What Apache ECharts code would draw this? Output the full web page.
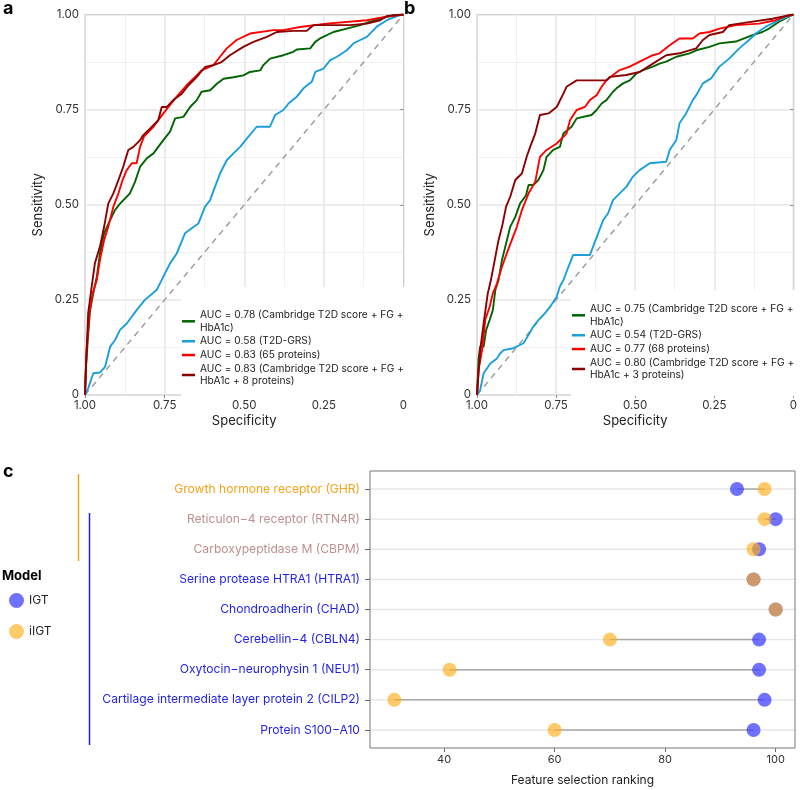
<!DOCTYPE html>
<html>
<head>
<meta charset="utf-8">
<script src="https://cdn.jsdelivr.net/npm/echarts@6/dist/echarts.min.js"></script>
<style>html,body{margin:0;padding:0;background:#fff}#c{width:800px;height:790px}</style>
</head>
<body>
<div id="c"></div>
<script>
// ---------- Panel a: ROC curves [specificity, sensitivity] ----------
const namesA = [
  'AUC = 0.78 (Cambridge T2D score + FG +\nHbA1c)',
  'AUC = 0.58 (T2D-GRS)',
  'AUC = 0.83 (65 proteins)',
  'AUC = 0.83 (Cambridge T2D score + FG +\nHbA1c + 8 proteins)'
];
const rocA_clinical = [[1,0],[0.997,0.074],[0.99,0.16],[0.984,0.223],[0.974,0.267],[0.963,0.311],[0.953,0.372],[0.94,0.425],[0.921,0.46],[0.906,0.486],[0.89,0.503],[0.859,0.53],[0.843,0.56],[0.827,0.6],[0.806,0.622],[0.785,0.635],[0.77,0.652],[0.754,0.67],[0.733,0.692],[0.717,0.727],[0.691,0.731],[0.67,0.757],[0.649,0.775],[0.634,0.797],[0.607,0.801],[0.586,0.818],[0.565,0.831],[0.534,0.835],[0.503,0.84],[0.482,0.849],[0.45,0.853],[0.44,0.867],[0.419,0.884],[0.377,0.893],[0.346,0.902],[0.335,0.908],[0.293,0.911],[0.277,0.928],[0.262,0.937],[0.22,0.954],[0.178,0.963],[0.136,0.972],[0.105,0.981],[0.073,0.989],[0.031,0.998],[0,1]];
const rocA_grs = [[1,0],[0.99,0.0175],[0.974,0.057],[0.953,0.059],[0.937,0.074],[0.921,0.127],[0.906,0.144],[0.89,0.171],[0.869,0.188],[0.838,0.223],[0.812,0.25],[0.775,0.276],[0.754,0.311],[0.733,0.346],[0.712,0.372],[0.686,0.425],[0.665,0.438],[0.644,0.451],[0.623,0.495],[0.607,0.512],[0.592,0.547],[0.576,0.582],[0.555,0.617],[0.534,0.635],[0.513,0.652],[0.492,0.674],[0.461,0.705],[0.419,0.705],[0.403,0.736],[0.377,0.749],[0.361,0.766],[0.335,0.784],[0.314,0.806],[0.288,0.823],[0.277,0.849],[0.251,0.858],[0.23,0.88],[0.209,0.889],[0.178,0.906],[0.157,0.924],[0.136,0.933],[0.115,0.941],[0.084,0.968],[0.052,0.985],[0.021,0.996],[0,1]];
const rocA_proteins = [[1,0],[0.995,0.118],[0.986,0.215],[0.976,0.267],[0.963,0.302],[0.953,0.355],[0.94,0.407],[0.927,0.442],[0.911,0.495],[0.895,0.53],[0.882,0.565],[0.869,0.591],[0.853,0.609],[0.838,0.609],[0.827,0.652],[0.815,0.679],[0.785,0.705],[0.754,0.74],[0.738,0.757],[0.712,0.784],[0.681,0.814],[0.66,0.831],[0.634,0.853],[0.597,0.867],[0.576,0.889],[0.555,0.911],[0.524,0.933],[0.482,0.95],[0.408,0.959],[0.377,0.959],[0.325,0.967],[0.241,0.976],[0.115,0.985],[0.063,0.993],[0,1]];
const rocA_combined = [[1,0],[0.997,0.074],[0.99,0.215],[0.979,0.285],[0.969,0.346],[0.953,0.39],[0.94,0.442],[0.927,0.503],[0.911,0.53],[0.895,0.565],[0.88,0.6],[0.864,0.644],[0.848,0.652],[0.827,0.67],[0.817,0.683],[0.796,0.7],[0.77,0.722],[0.759,0.757],[0.743,0.757],[0.723,0.775],[0.696,0.792],[0.675,0.814],[0.649,0.836],[0.623,0.862],[0.597,0.867],[0.571,0.875],[0.545,0.893],[0.503,0.915],[0.471,0.928],[0.429,0.941],[0.398,0.954],[0.346,0.957],[0.304,0.957],[0.283,0.972],[0.22,0.972],[0.168,0.972],[0.115,0.976],[0.073,0.985],[0.052,0.996],[0,1]];

// ---------- Panel b ----------
const namesB = [
  'AUC = 0.75 (Cambridge T2D score + FG +\nHbA1c)',
  'AUC = 0.54 (T2D-GRS)',
  'AUC = 0.77 (68 proteins)',
  'AUC = 0.80 (Cambridge T2D score + FG +\nHbA1c + 3 proteins)'
];
const rocB_clinical = [[1,0],[0.995,0.095],[0.99,0.127],[0.979,0.127],[0.971,0.171],[0.96,0.197],[0.95,0.223],[0.942,0.276],[0.932,0.302],[0.921,0.355],[0.908,0.398],[0.895,0.442],[0.879,0.468],[0.864,0.503],[0.845,0.525],[0.837,0.552],[0.822,0.552],[0.806,0.565],[0.79,0.591],[0.78,0.626],[0.759,0.644],[0.738,0.652],[0.727,0.687],[0.701,0.705],[0.685,0.727],[0.638,0.736],[0.622,0.749],[0.606,0.766],[0.591,0.775],[0.57,0.797],[0.559,0.806],[0.538,0.819],[0.517,0.827],[0.496,0.845],[0.475,0.854],[0.444,0.863],[0.423,0.871],[0.402,0.876],[0.37,0.889],[0.328,0.898],[0.307,0.906],[0.265,0.915],[0.234,0.924],[0.182,0.929],[0.129,0.946],[0.098,0.954],[0.077,0.963],[0.045,0.981],[0,1]];
const rocB_grs = [[1,0],[0.99,0.013],[0.979,0.057],[0.958,0.083],[0.937,0.096],[0.927,0.109],[0.916,0.118],[0.885,0.123],[0.853,0.136],[0.837,0.158],[0.822,0.18],[0.806,0.197],[0.785,0.215],[0.769,0.232],[0.748,0.258],[0.738,0.285],[0.727,0.302],[0.711,0.337],[0.696,0.368],[0.685,0.368],[0.643,0.368],[0.633,0.39],[0.617,0.425],[0.601,0.46],[0.586,0.477],[0.57,0.512],[0.549,0.53],[0.528,0.547],[0.507,0.574],[0.486,0.591],[0.454,0.609],[0.402,0.613],[0.391,0.644],[0.37,0.67],[0.36,0.714],[0.339,0.74],[0.318,0.775],[0.307,0.788],[0.286,0.819],[0.26,0.832],[0.234,0.863],[0.203,0.884],[0.171,0.911],[0.14,0.933],[0.119,0.95],[0.087,0.968],[0.045,0.985],[0,1]];
const rocB_proteins = [[1,0],[0.995,0.066],[0.984,0.118],[0.974,0.197],[0.96,0.232],[0.95,0.267],[0.937,0.293],[0.921,0.337],[0.906,0.372],[0.89,0.407],[0.874,0.442],[0.858,0.486],[0.837,0.53],[0.816,0.56],[0.801,0.626],[0.78,0.644],[0.748,0.661],[0.717,0.687],[0.706,0.722],[0.685,0.749],[0.659,0.757],[0.643,0.775],[0.622,0.788],[0.606,0.81],[0.591,0.827],[0.57,0.841],[0.549,0.854],[0.517,0.863],[0.486,0.876],[0.444,0.893],[0.423,0.898],[0.391,0.919],[0.36,0.937],[0.318,0.937],[0.297,0.95],[0.265,0.954],[0.234,0.963],[0.182,0.972],[0.108,0.976],[0.056,0.985],[0.024,0.996],[0,1]];
const rocB_combined = [[1,0],[0.99,0.118],[0.979,0.188],[0.966,0.267],[0.956,0.302],[0.942,0.363],[0.932,0.407],[0.921,0.442],[0.908,0.495],[0.895,0.521],[0.879,0.565],[0.858,0.582],[0.843,0.626],[0.832,0.652],[0.816,0.687],[0.801,0.736],[0.774,0.74],[0.748,0.757],[0.727,0.792],[0.717,0.81],[0.685,0.827],[0.591,0.827],[0.58,0.836],[0.528,0.841],[0.486,0.849],[0.444,0.871],[0.402,0.893],[0.36,0.898],[0.307,0.911],[0.286,0.933],[0.265,0.946],[0.223,0.954],[0.203,0.972],[0.14,0.98],[0.066,0.989],[0,1]];

const diagonal = [[1,0],[0,1]];

// ---------- Panel c ----------
const proteins = [
  'Growth hormone receptor (GHR)',
  'Reticulon\u22124 receptor (RTN4R)',
  'Carboxypeptidase M (CBPM)',
  'Serine protease HTRA1 (HTRA1)',
  'Chondroadherin (CHAD)',
  'Cerebellin\u22124 (CBLN4)',
  'Oxytocin\u2212neurophysin 1 (NEU1)',
  'Cartilage intermediate layer protein 2 (CILP2)',
  'Protein S100\u2212A10'
];
const proteinGroup = ['iIGT', 'both', 'both', 'IGT', 'IGT', 'IGT', 'IGT', 'IGT', 'IGT'];
const rankIGT  = [93, 100, 97, 96, 100, 97, 97, 98, 96];
const rankIIGT = [98, 98, 96, 96, 100, 70, 41, 31, 60];

// ---------- styling ----------
const FONT = 'Inter, "Noto Sans", sans-serif';
const rocColors = ['#006400', '#1a9fdb', '#ff0000', '#8b0000'];
const groupColors = {iIGT: '#f5a31a', both: '#c09090', IGT: '#1f1fee'};

function rocAxes(gridIndex) {
  const lab = {fontFamily: FONT, fontSize: 11.5, color: '#333', formatter: v => v === 0 ? '0' : v.toFixed(2)};
  return {
    x: {
      gridIndex, type: 'value', min: 0, max: 1, interval: 0.25, inverse: true,
      name: 'Specificity', nameLocation: 'middle', nameGap: 20,
      nameTextStyle: {fontFamily: FONT, fontSize: 13, color: '#222'},
      axisLine: {show: false},
      axisTick: {show: true, length: 3, lineStyle: {color: '#888'}},
      axisLabel: Object.assign({margin: 5}, lab),
      splitLine: {show: true, lineStyle: {color: '#e6e6e6', width: 1.5}},
      minorTick: {show: false, splitNumber: 2},
      minorSplitLine: {show: true, lineStyle: {color: '#eeeeee', width: 0.9}}
    },
    y: {
      gridIndex, type: 'value', min: 0, max: 1, interval: 0.25,
      name: 'Sensitivity', nameLocation: 'middle', nameGap: 40,
      nameTextStyle: {fontFamily: FONT, fontSize: 13, color: '#222'},
      axisLine: {show: false},
      axisTick: {show: true, length: 3, lineStyle: {color: '#888'}},
      axisLabel: Object.assign({margin: 6}, lab),
      splitLine: {show: true, lineStyle: {color: '#e6e6e6', width: 1.5}},
      minorTick: {show: false, splitNumber: 2},
      minorSplitLine: {show: true, lineStyle: {color: '#eeeeee', width: 0.9}}
    }
  };
}
const axA = rocAxes(0), axB = rocAxes(1);

function rocSeries(names, curves, axisIdx) {
  const out = [{
    type: 'line', xAxisIndex: axisIdx, yAxisIndex: axisIdx, data: diagonal,
    showSymbol: false, silent: true, z: 1,
    lineStyle: {color: '#999', width: 1.4, type: [6, 5]}
  }];
  curves.forEach((c, i) => out.push({
    name: names[i], type: 'line', xAxisIndex: axisIdx, yAxisIndex: axisIdx,
    data: c, showSymbol: false, z: 2 + i,
    color: rocColors[i], lineStyle: {width: 1.9, color: rocColors[i]}
  }));
  return out;
}

function legendFor(names, left, top, pad) {
  return {
    data: names, left, top, orient: 'vertical', icon: 'rect',
    itemWidth: 13, itemHeight: 2.5, itemGap: 1.5,
    backgroundColor: '#fff', padding: pad, selectedMode: false,
    textStyle: {fontFamily: FONT, fontSize: 10.2, lineHeight: 12.3, color: '#222'}
  };
}

const segData = proteins.map((p, i) => [i, rankIGT[i], rankIIGT[i]]);

const chart = echarts.init(document.getElementById('c'), null, {renderer: 'canvas'});
chart.setOption({
  animation: false,
  textStyle: {fontFamily: FONT},
  grid: [
    {left: 85, top: 14.5, width: 318.5, height: 380.5, show: true, borderColor: '#999', borderWidth: 1, backgroundColor: 'transparent'},
    {left: 477, top: 14.5, width: 317.5, height: 380.5, show: true, borderColor: '#999', borderWidth: 1, backgroundColor: 'transparent'},
    {left: 370, top: 474, width: 425, height: 271}
  ],
  xAxis: [axA.x, axB.x, {
    gridIndex: 2, type: 'value', min: 26.6, max: 103.5, offset: 3,
    name: 'Feature selection ranking', nameLocation: 'middle', nameGap: 26,
    nameTextStyle: {fontFamily: FONT, fontSize: 12, color: '#222'},
    axisLine: {show: false},
    axisTick: {show: true, length: 4, lineStyle: {color: '#666'}},
    axisLabel: {fontFamily: FONT, fontSize: 11, color: '#333', margin: 6, showMinLabel: false, showMaxLabel: false,
      formatter: v => (v % 20 === 0 ? String(v) : '')},
    splitLine: {show: false}
  }],
  yAxis: [axA.y, axB.y, {
    gridIndex: 2, type: 'category', data: proteins, inverse: true,
    axisLine: {show: false},
    axisTick: {show: true, alignWithLabel: true, length: 5, lineStyle: {color: '#666'}},
    axisLabel: {fontFamily: FONT, fontSize: 12.1, margin: 10,
      color: (v) => groupColors[proteinGroup[proteins.indexOf(v)]]},
    splitLine: {show: false}
  }],
  legend: [
    legendFor(namesA, 181, 287, [22, 6, 12, 1]),
    legendFor(namesB, 571, 290, [13, 6, 15, 1]),
    {data: ['IGT', 'iIGT'], left: 4, top: 588, orient: 'vertical', icon: 'circle',
     itemWidth: 15, itemHeight: 15, itemGap: 16, selectedMode: false,
     textStyle: {fontFamily: FONT, fontSize: 12, color: '#222'}}
  ],
  graphic: [
    {type: 'text', left: 3, top: 0, style: {text: 'a', font: 'bold 18px ' + FONT, fill: '#000'}},
    {type: 'text', left: 404, top: 0, style: {text: 'b', font: 'bold 18px ' + FONT, fill: '#000'}},
    {type: 'text', left: 3, top: 463, style: {text: 'c', font: 'bold 18px ' + FONT, fill: '#000'}},
    {type: 'text', left: 2, top: 570, style: {text: 'Model', font: 'bold 13px ' + FONT, fill: '#000'}},
    {type: 'rect', shape: {x: 370, y: 471, width: 425, height: 277}, style: {fill: 'none', stroke: '#777', lineWidth: 1}, z: 100},
    {type: 'line', shape: {x1: 78.5, y1: 474, x2: 78.5, y2: 561}, style: {stroke: '#f5a31a', lineWidth: 1.5}},
    {type: 'line', shape: {x1: 89.5, y1: 513, x2: 89.5, y2: 745}, style: {stroke: '#1f1fee', lineWidth: 1.5}}
  ],
  series: [
    ...rocSeries(namesA, [rocA_clinical, rocA_grs, rocA_proteins, rocA_combined], 0),
    ...rocSeries(namesB, [rocB_clinical, rocB_grs, rocB_proteins, rocB_combined], 1),
    {
      type: 'custom', xAxisIndex: 2, yAxisIndex: 2, data: segData, silent: true, z: 1,
      encode: {x: [1, 2], y: 0},
      renderItem: (params, api) => {
        const cs = params.coordSys;
        const p1 = api.coord([api.value(1), api.value(0)]);
        const p2 = api.coord([api.value(2), api.value(0)]);
        return {type: 'group', children: [
          {type: 'line', shape: {x1: cs.x, y1: p1[1], x2: cs.x + cs.width, y2: p1[1]}, style: {stroke: '#e6e6e6', lineWidth: 1.4}},
          {type: 'line', shape: {x1: p1[0], y1: p1[1], x2: p2[0], y2: p2[1]}, style: {stroke: '#a8a8a8', lineWidth: 1.5}}
        ]};
      }
    },
    {name: 'IGT', type: 'scatter', xAxisIndex: 2, yAxisIndex: 2, symbolSize: 14, z: 3,
     data: rankIGT.map((v, i) => [v, i]), itemStyle: {color: '#3a3aff', opacity: 0.72}},
    {name: 'iIGT', type: 'scatter', xAxisIndex: 2, yAxisIndex: 2, symbolSize: 14, z: 4,
     data: rankIIGT.map((v, i) => [v, i]), itemStyle: {color: '#ffae1a', opacity: 0.65}}
  ]
});
</script>
</body>
</html>
